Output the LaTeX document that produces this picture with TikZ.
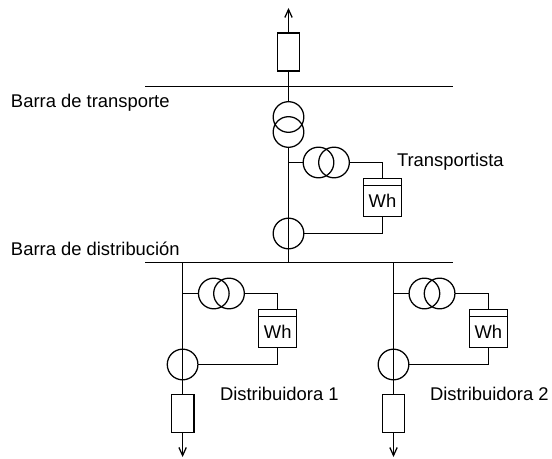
\documentclass[tikz,border=0pt]{standalone}
\usepackage{fontspec}
\setmainfont{Liberation Sans}
\usetikzlibrary{arrows.meta}
\tikzset{
 x=0.75pt,y=-0.75pt,
 wire/.style={draw=black,line width=0.95pt},
 ring/.style={circle,draw=black,line width=0.95pt,minimum size=23pt,inner sep=0pt,outer sep=0pt},
 fuse/.style={rectangle,draw=black,line width=0.95pt,minimum width=17pt,minimum height=28.5pt,inner sep=0pt,outer sep=0pt},
 meter/.style={rectangle,draw=black,line width=0.95pt,minimum width=28.5pt,minimum height=28.5pt,inner sep=0pt,outer sep=0pt},
 lbl/.style={inner sep=0pt,outer sep=0pt,anchor=base west,font=\fontsize{13.8pt}{16pt}\selectfont},
 wh/.style={inner sep=0pt,outer sep=0pt,anchor=base,font=\fontsize{13.8pt}{16pt}\selectfont},
 tip/.style={-{Straight Barb[length=6pt,width=5.5pt,line width=0.95pt]}},
}
\begin{document}
\begin{tikzpicture}
\useasboundingbox (0,0) rectangle (552,459);
% buses
\coordinate (b1l) at (145,86.5); \coordinate (b1r) at (453,86.5);
\coordinate (b2l) at (145,262.5); \coordinate (b2r) at (453,262.5);
\draw[wire] (b1l) -- (b1r);
\draw[wire] (b2l) -- (b2r);
\coordinate (b1m) at (288.5,86.5); \coordinate (b2m) at (288.5,262.5);
% main feeder
\coordinate (up) at (288.5,8);
\node[fuse] (F) at (288.5,52) {};
\draw[wire,tip] (F.north) -- (up);
\draw[wire] (F.south) -- (b1m);
\node[ring] (T1) at (288.5,117) {};
\node[ring] (T2) at (288.5,132) {};
\draw[wire] (b1m) -- (T1.north);
\draw[wire] (T2.south) -- (b2m);
\coordinate (j0) at (288.5,162.5);
\node[ring] (V1) at (318.5,162.5) {};
\node[ring] (V2) at (334,162.5) {};
\draw[wire] (j0) -- (V1.west);
\node[meter] (M) at (382.5,197.5) {};
\node[wh] (Mt) at (382.5,207.3) {Wh};
\draw[wire] ([yshift=-5.25pt]M.north west) -- ([yshift=-5.25pt]M.north east);
\draw[wire] (V2.east) -| (M.north);
\node[ring] (C) at (288.5,233.5) {};
\draw[wire] (C.east) -| (M.south);
% left branch
\coordinate (lt) at (182.6,262.5);
\coordinate (lj) at (182.6,293.5);
\node[fuse] (LF) at (182.6,413.3) {};
\coordinate (ldown) at (182.6,457);
\draw[wire] (lt) -- (LF.north);
\draw[wire,tip] (LF.south) -- (ldown);
\node[ring] (LV1) at (213.8,293.5) {};
\node[ring] (LV2) at (229,293.5) {};
\draw[wire] (lj) -- (LV1.west);
\node[meter] (LM) at (277.7,328.3) {};
\node[wh] (LMt) at (277.7,338.3) {Wh};
\draw[wire] ([yshift=-5.25pt]LM.north west) -- ([yshift=-5.25pt]LM.north east);
\draw[wire] (LV2.east) -| (LM.north);
\node[ring] (LC) at (182.6,364.5) {};
\draw[wire] (LC.east) -| (LM.south);
% right branch
\coordinate (rt) at (393.5,262.5);
\coordinate (rj) at (393.5,293.5);
\node[fuse] (RF) at (393.5,413.3) {};
\coordinate (rdown) at (393.5,457);
\draw[wire] (rt) -- (RF.north);
\draw[wire,tip] (RF.south) -- (rdown);
\node[ring] (RV1) at (424.4,293.5) {};
\node[ring] (RV2) at (439.6,293.5) {};
\draw[wire] (rj) -- (RV1.west);
\node[meter] (RM) at (488.3,328.3) {};
\node[wh] (RMt) at (488.3,338.3) {Wh};
\draw[wire] ([yshift=-5.25pt]RM.north west) -- ([yshift=-5.25pt]RM.north east);
\draw[wire] (RV2.east) -| (RM.north);
\node[ring] (RC) at (393.5,364.5) {};
\draw[wire] (RC.east) -| (RM.south);
% labels
\node[lbl] (l1) at (11,107.7) {Barra de transporte};
\node[lbl] (l2) at (11,256) {Barra de distribución};
\node[lbl] (l3) at (397,166.7) {Transportista};
\node[lbl] (l4) at (220,400.5) {Distribuidora 1};
\node[lbl] (l5) at (430,400.5) {Distribuidora 2};
\end{tikzpicture}
\end{document}
